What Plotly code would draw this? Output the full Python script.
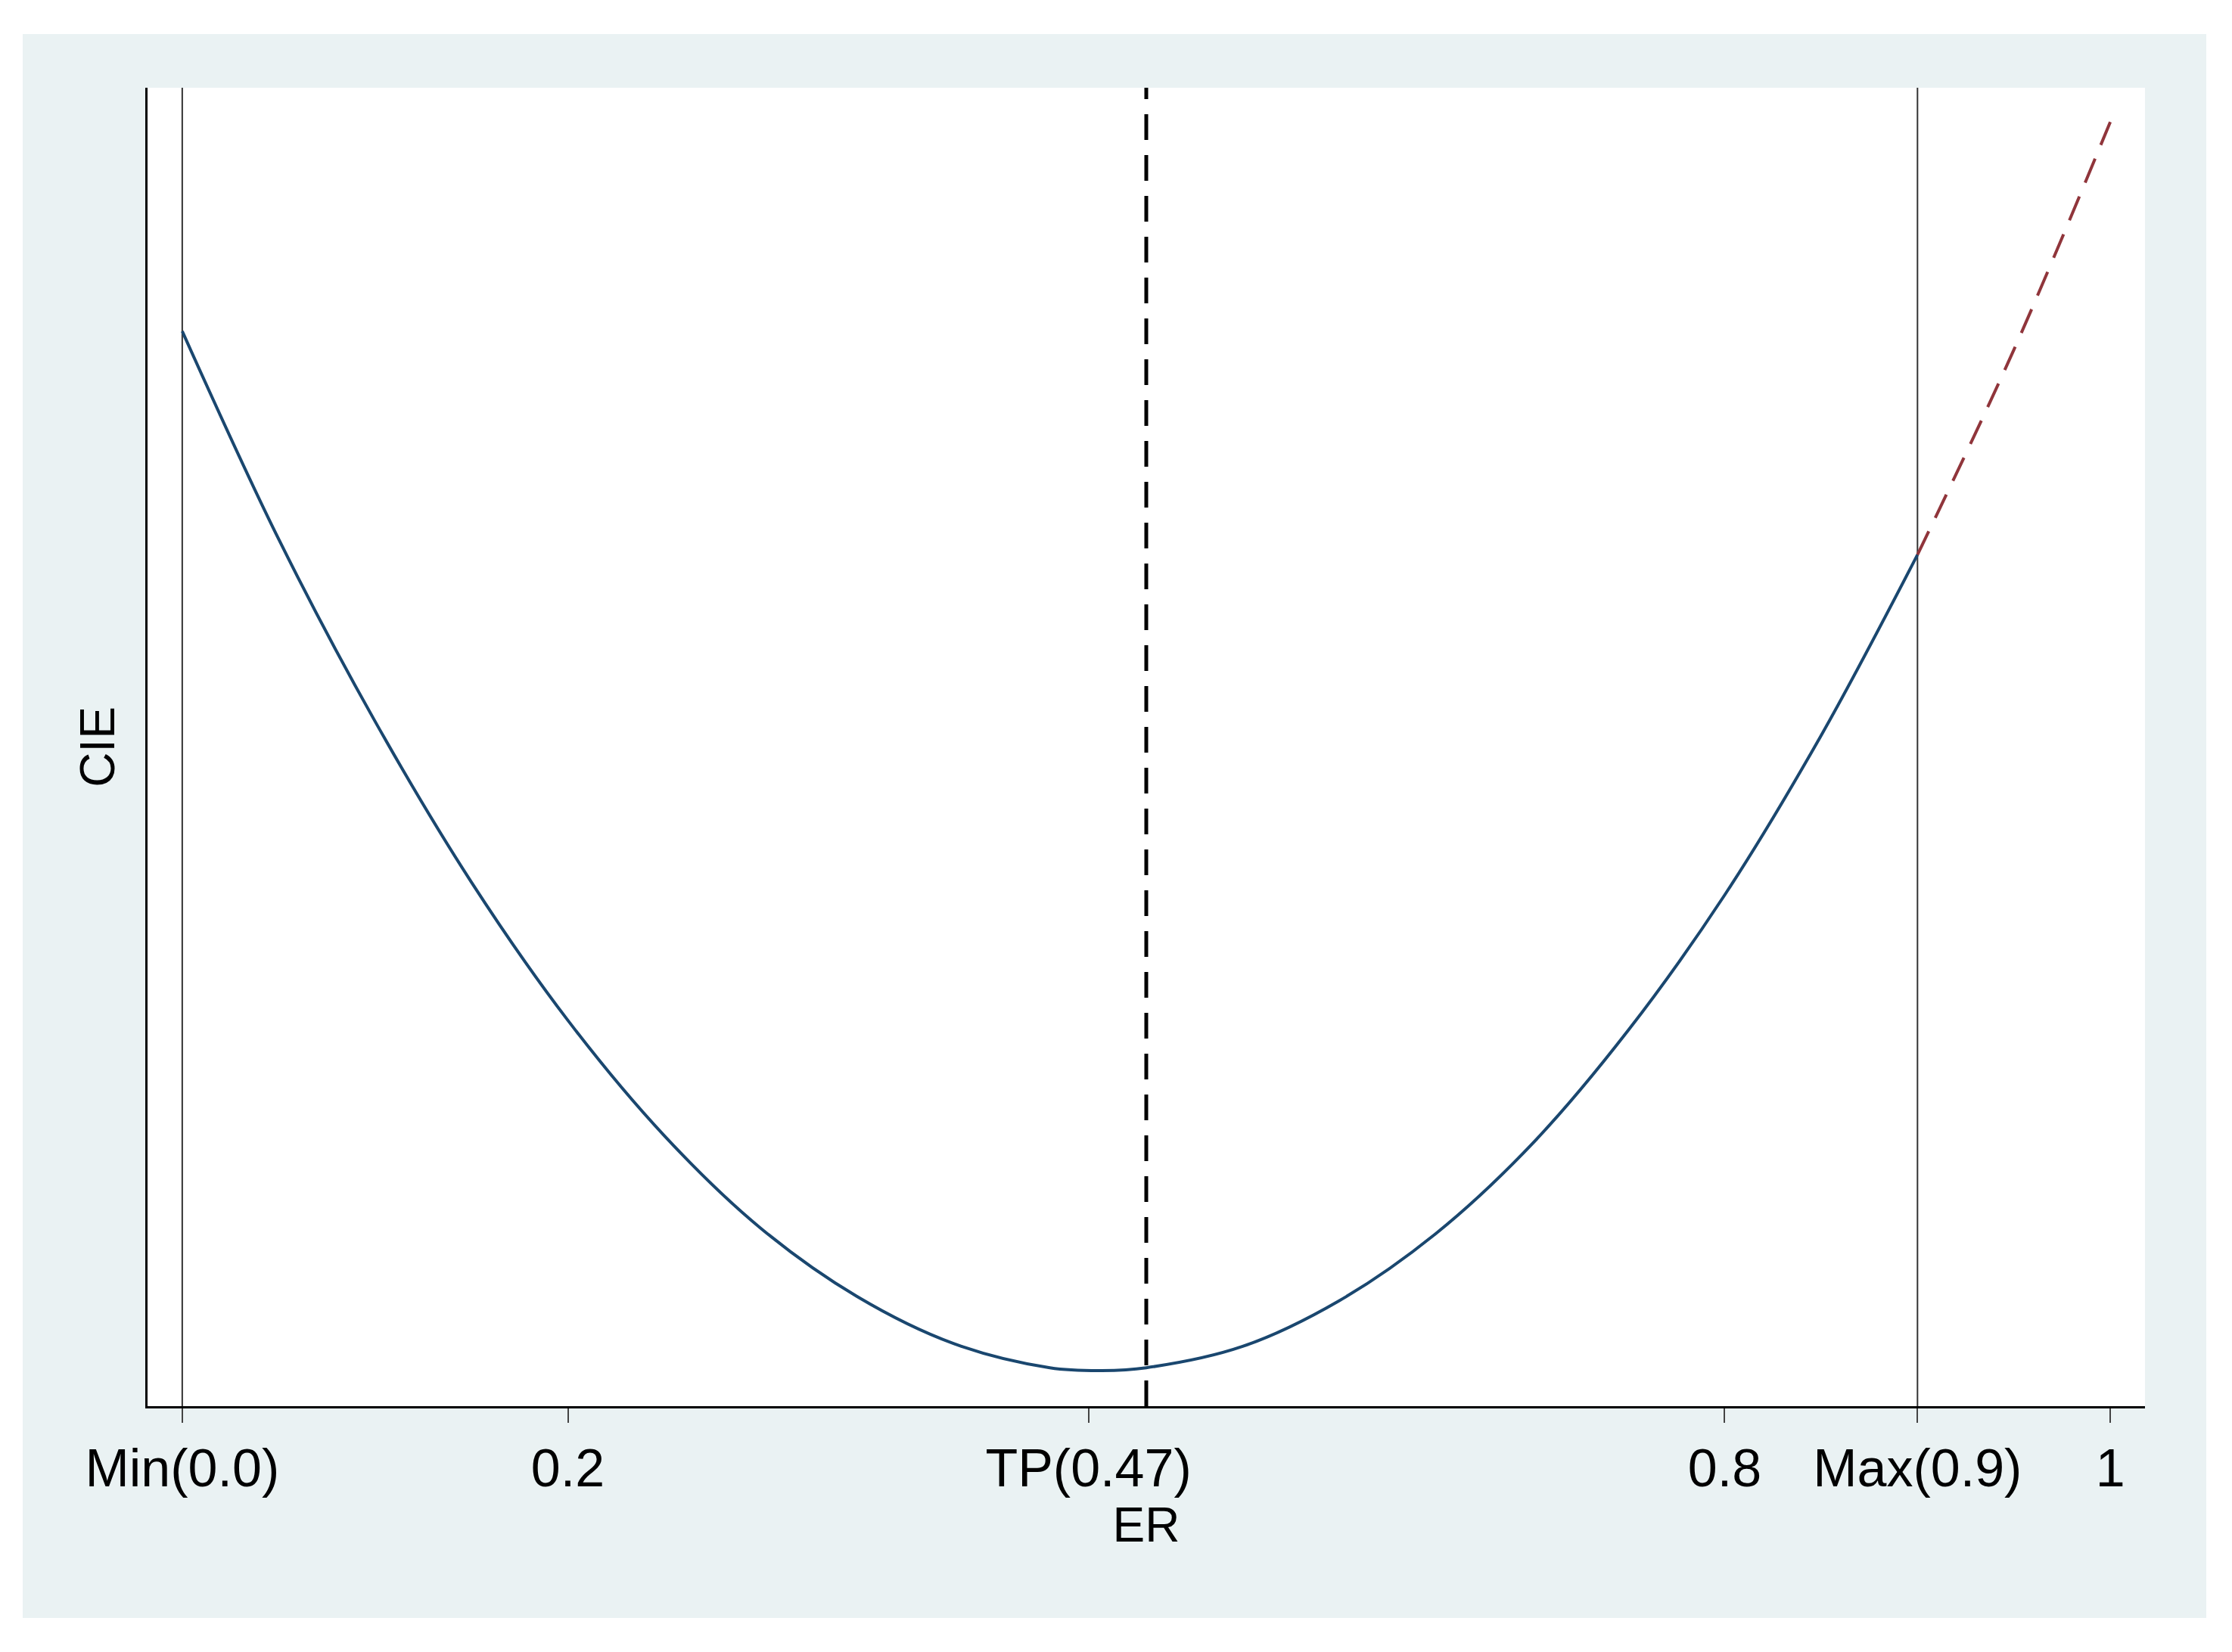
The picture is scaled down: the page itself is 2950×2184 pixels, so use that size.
import plotly.graph_objects as go

# data
er_solid = [0, 0.05, 0.1, 0.15, 0.2, 0.25, 0.3, 0.35, 0.4, 0.45, 0.477, 0.5, 0.55, 0.6, 0.65, 0.7, 0.75, 0.8, 0.85, 0.9]
cie_solid = [755, 609, 481, 368, 271, 190, 125, 77, 44, 27, 25, 27, 42, 74, 121, 184, 264, 359, 471, 598]
er_dash = [0.9, 0.95, 1.0]
cie_dash = [598, 742, 902]
tick_vals = [0, 0.2, 0.47, 0.8, 0.9, 1]
tick_text = ["Min(0.0)", "0.2", "TP(0.47)", "0.8", "Max(0.9)", "1"]
min_x, max_x, tp_line = 0.0, 0.9, 0.5
y_top = 926

fig = go.Figure()
fig.add_trace(go.Scatter(x=[min_x, min_x], y=[0, y_top], mode="lines", line=dict(color="#333333", width=2)))
fig.add_trace(go.Scatter(x=[max_x, max_x], y=[0, y_top], mode="lines", line=dict(color="#333333", width=2)))
fig.add_trace(go.Scatter(x=[tp_line, tp_line], y=[0, y_top], mode="lines", line=dict(color="black", width=5, dash="34px,20px")))
fig.add_trace(go.Scatter(x=er_solid, y=cie_solid, mode="lines", line=dict(color="#1a476f", width=4, shape="spline", smoothing=1.0)))
fig.add_trace(go.Scatter(x=er_dash, y=cie_dash, mode="lines", line=dict(color="#90353b", width=4, dash="34px,20px", shape="spline")))

font = dict(family="Liberation Sans, Arial", size=70, color="black")
fig.update_layout(
    width=2950, height=2184, showlegend=False,
    margin=dict(l=187, r=123, t=108, b=333),
    paper_bgcolor="#eaf2f3", plot_bgcolor="white", font=font,
    xaxis=dict(range=[-0.018, 1.018], tickvals=tick_vals, ticktext=tick_text, ticks="outside",
               ticklen=19, tickwidth=2, showline=True, linecolor="black", linewidth=3,
               showgrid=False, zeroline=False, title=dict(text="ER", standoff=0, font=dict(size=64))),
    yaxis=dict(range=[0, y_top], showticklabels=False, ticks="", showline=True, linecolor="black",
               linewidth=3, showgrid=False, zeroline=False, title=dict(text="CIE", standoff=20, font=dict(size=64))),
    shapes=[
        dict(type="rect", xref="paper", yref="paper", x0=-0.1, x1=-0.0625, y0=-0.3, y1=1.1, fillcolor="white", line_width=0),
        dict(type="rect", xref="paper", yref="paper", x0=1.0307, x1=1.1, y0=-0.3, y1=1.1, fillcolor="white", line_width=0),
        dict(type="rect", xref="paper", yref="paper", x0=-0.1, x1=1.1, y0=1.0407, y1=1.1, fillcolor="white", line_width=0),
        dict(type="rect", xref="paper", yref="paper", x0=-0.1, x1=1.1, y0=-0.3, y1=-0.1606, fillcolor="white", line_width=0),
    ],
)
fig.write_html("out.html")
